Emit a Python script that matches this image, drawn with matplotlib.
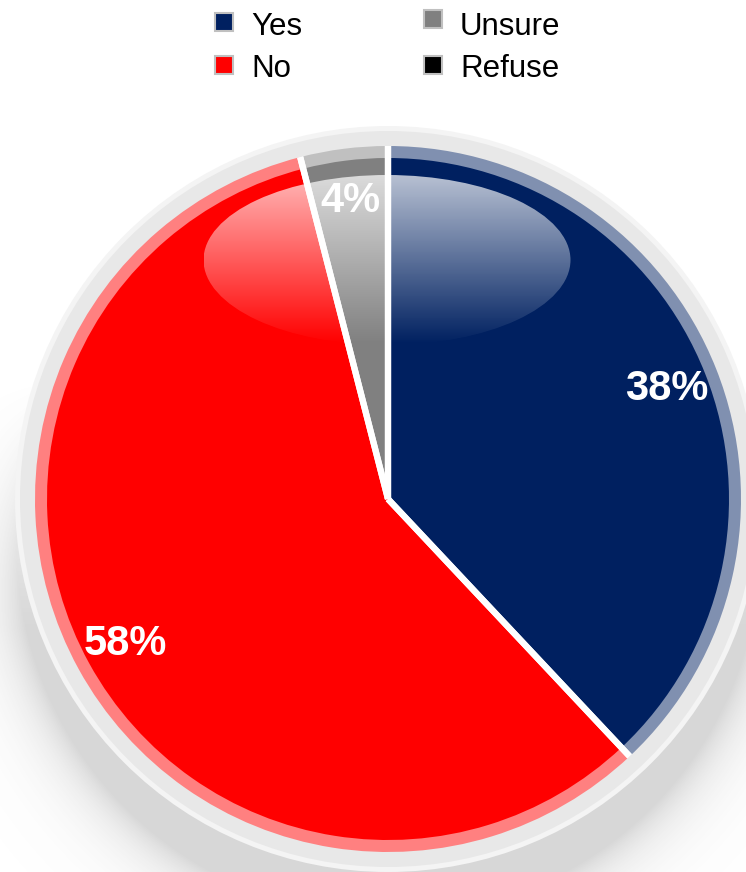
import numpy as np
import matplotlib
matplotlib.use("Agg")
import matplotlib.pyplot as plt
from matplotlib.patches import Circle, Ellipse, Rectangle
from matplotlib.colors import to_rgb

categories = ["Yes", "No", "Unsure", "Refuse"]
values = [38, 58, 4, 0]
colors = ["#002060", "#FF0000", "#808080", "#000000"]

W, H = 746, 872
fig = plt.figure(figsize=(W / 100, H / 100), dpi=100)
ax = fig.add_axes([0, 0, 1, 1])
ax.set_xlim(0, W)
ax.set_ylim(0, H)
ax.set_aspect("equal")
ax.axis("off")

cx, cy = 388, H - 499
R_out = 353
R_in = 341

# soft shadow
yy, xx = np.mgrid[0:H, 0:W]
yimg = H - yy
d = np.hypot(xx - cx, (yimg - (cy - 45)) * 1.0)
a = 0.24 * np.exp(-np.clip(d - 372, 0, None) / 28.0)
a *= np.clip((cy + 120 - yimg) / 250.0, 0, 1)
shadow = np.zeros((H, W, 4))
shadow[..., :3] = 0.35
shadow[..., 3] = a
ax.imshow(shadow, extent=[0, W, 0, H], origin="upper", zorder=0, interpolation="bilinear")

# outer ring
ax.add_patch(Circle((cx, cy), 373, facecolor="#f4f4f4", edgecolor="none", zorder=1))
ax.add_patch(Circle((cx, cy), 368, facecolor="#e8e8e8", edgecolor="none", zorder=1))

def lighten(c, f=0.5):
    r, g, b = to_rgb(c)
    return (r + (1 - r) * f, g + (1 - g) * f, b + (1 - b) * f)

light = [lighten(c, 0.5) for c in colors]

w_out, _ = ax.pie(values, colors=light, startangle=90, counterclock=False,
                  center=(cx, cy), radius=R_out, frame=True,
                  wedgeprops=dict(edgecolor="none", zorder=2))
w_in, _, autot = ax.pie(values, colors=colors, startangle=90, counterclock=False,
                        center=(cx, cy), radius=R_in, frame=True,
                        autopct=lambda p: f"{p:.0f}%" if p > 0.5 else "",
                        pctdistance=0.88,
                        wedgeprops=dict(edgecolor="none", zorder=3),
                        textprops=dict(color="white", fontsize=30, fontweight="bold",
                                       family="Liberation Sans", zorder=7))
for w in w_in:
    w.set_zorder(3)
for w in w_out:
    w.set_zorder(2)

# gloss highlight
gx, gy, gw, gh = 387, H - 260, 367, 170
ell = Ellipse((gx, gy), gw, gh, facecolor="none", edgecolor="none")
ax.add_patch(ell)
grad = np.zeros((100, 10, 4))
grad[..., :3] = 1.0
grad[..., 3] = np.linspace(0.72, 0.0, 100)[:, None]
im = ax.imshow(grad, extent=[gx - gw / 2, gx + gw / 2, gy - gh / 2, gy + gh / 2],
               origin="upper", zorder=4, interpolation="bilinear", aspect="auto")
im.set_clip_path(ell)

# separators
for w, v in zip(w_out, values):
    if v <= 0:
        continue
    for th in (w.theta1, w.theta2):
        t = np.deg2rad(th)
        ax.plot([cx, cx + R_out * np.cos(t)], [cy, cy + R_out * np.sin(t)],
                color="white", lw=4.5, solid_capstyle="butt", zorder=5)

ax.set_xlim(0, W)
ax.set_ylim(0, H)
ax.axis("off")

# legend (marker centre, text baseline) in pixels from top
leg_pos = [(224, 22, 35), (224, 65, 77), (433, 19, 35), (433, 65, 77)]
for (lx, ly, tb), lab, c in zip(leg_pos, categories, colors):
    ax.add_patch(Rectangle((lx - 9, H - ly - 9), 18, 18, facecolor=c,
                           edgecolor="#c0c0c0", lw=1.5, zorder=8))
    ax.text(lx + 27, H - tb, lab, fontsize=22.5, family="Liberation Sans",
            color="black", va="baseline", ha="left", zorder=8)

fig.savefig("out.png", dpi=100)
